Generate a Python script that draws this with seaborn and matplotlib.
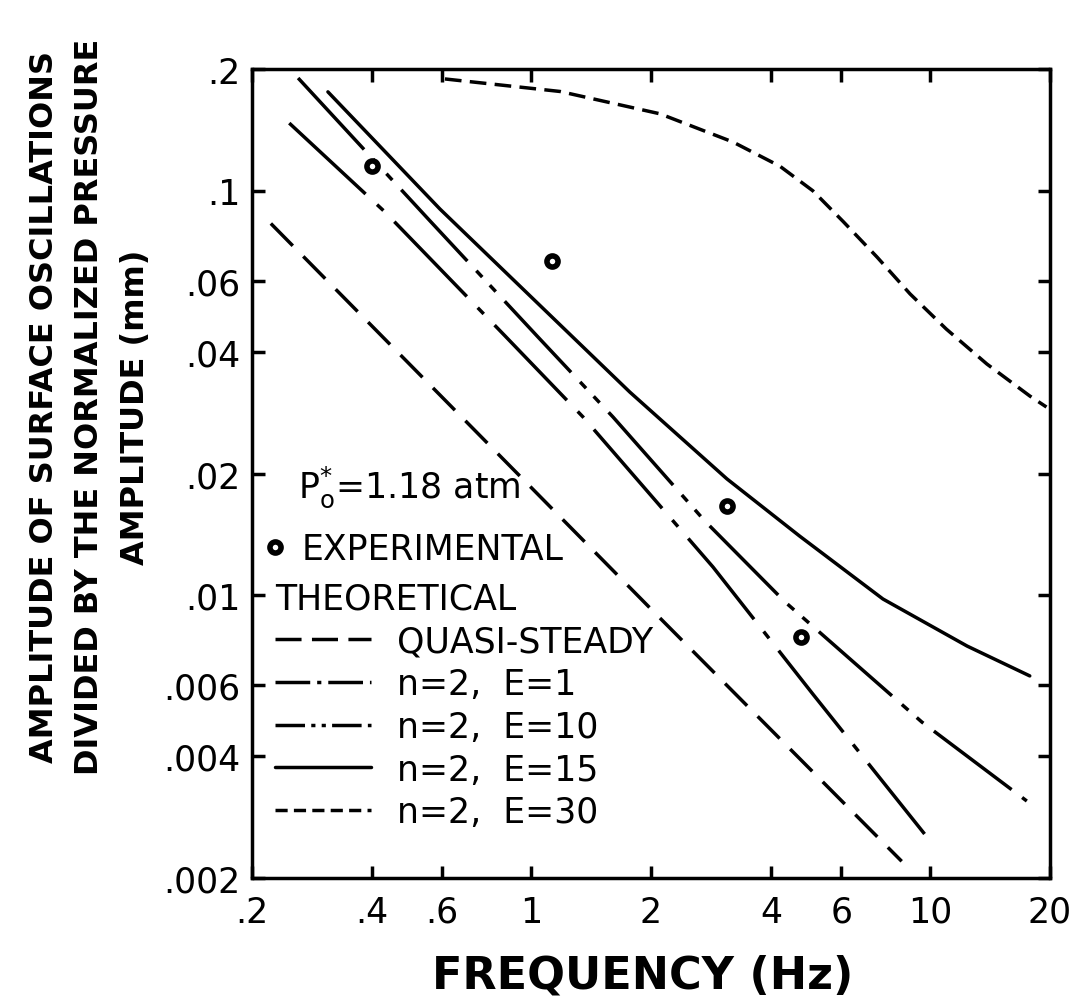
import pandas as pd
import matplotlib.pyplot as plt
from matplotlib.lines import Line2D
from matplotlib.ticker import NullLocator
import seaborn as sns

# experimental points
exp_freq = [0.40, 1.13, 3.10, 4.75]
exp_amp = [0.115, 0.067, 0.0166, 0.0079]

# theoretical curves
qs_freq = [0.223, 2.0, 8.5]
qs_amp = [0.083, 0.00925, 0.0022]

e1_freq = [0.248, 0.431, 0.861, 1.351, 2.86, 5.09, 9.7]
e1_amp = [0.147, 0.0886, 0.0438, 0.0276, 0.01175, 0.0057, 0.00257]

e10_freq = [0.261, 0.559, 1.042, 1.606, 2.73, 4.34, 9.55, 17.5]
e10_amp = [0.190, 0.0842, 0.0435, 0.0276, 0.01526, 0.00962, 0.00486, 0.0031]

e15_freq = [0.31, 0.592, 1.77, 3.10, 4.72, 7.63, 12.4, 17.8]
e15_amp = [0.1756, 0.0901, 0.0318, 0.0194, 0.0140, 0.00979, 0.00749, 0.00632]

e30_freq = [0.609, 1.183, 2.106, 3.21, 4.21, 5.09, 6.06, 7.37, 8.92, 11.0, 13.9, 17.8, 19.6]
e30_amp = [0.189, 0.176, 0.155, 0.132, 0.115, 0.100, 0.084, 0.0686, 0.0556, 0.0455, 0.0373, 0.0311, 0.0292]

curve_names = ['QUASI-STEADY', 'n=2,  E=1', 'n=2,  E=10', 'n=2,  E=15', 'n=2,  E=30']

x_ticks = [0.2, 0.4, 0.6, 1, 2, 4, 6, 10, 20]
x_labels = ['.2', '.4', '.6', '1', '2', '4', '6', '10', '20']
y_ticks = [0.002, 0.004, 0.006, 0.01, 0.02, 0.04, 0.06, 0.1, 0.2]
y_labels = ['.002', '.004', '.006', '.01', '.02', '.04', '.06', '.1', '.2']

# long form table for seaborn
parts = []
for name, f, a in zip(curve_names,
                      [qs_freq, e1_freq, e10_freq, e15_freq, e30_freq],
                      [qs_amp, e1_amp, e10_amp, e15_amp, e30_amp]):
    parts.append(pd.DataFrame({'freq': f, 'amp': a, 'curve': name}))
df = pd.concat(parts, ignore_index=True)

# dash patterns (in linewidth units) for the plotted curves
dash_map = {
    'QUASI-STEADY': (9, 4.3),
    'n=2,  E=1': (30, 4.5, 2.5, 4.5),
    'n=2,  E=10': (28, 3.8, 2.5, 3.2, 2.5, 3.8),
    'n=2,  E=15': '',
    'n=2,  E=30': (4.8, 2.4),
}
# shorter patterns for the legend samples
legend_dash = {
    'QUASI-STEADY': (7.5, 3),
    'n=2,  E=1': (10, 2, 1.2, 2),
    'n=2,  E=10': (8.5, 1.8, 1.2, 1.8, 1.2, 1.8),
    'n=2,  E=15': None,
    'n=2,  E=30': (3.5, 1.8),
}

sns.set_style("ticks")
plt.rcParams['font.family'] = ['DejaVu Sans']
plt.rcParams['mathtext.default'] = 'regular'
plt.rcParams['text.color'] = 'black'
plt.rcParams['axes.labelcolor'] = 'black'

fig = plt.figure(figsize=(10.75, 10.03), dpi=100)
ax = fig.add_axes([0.2344, 0.1236, 0.7423, 0.8066])
ax.set_xscale('log')
ax.set_yscale('log')

sns.lineplot(data=df, x='freq', y='amp', style='curve', style_order=curve_names,
             dashes=dash_map, color='black', linewidth=2.5, estimator=None,
             sort=False, legend=False, ax=ax)
sns.scatterplot(x=exp_freq, y=exp_amp, marker='o', s=64, color='white',
                edgecolor='black', linewidth=4, zorder=5, ax=ax)

ax.set_xlim(0.2, 20)
ax.set_ylim(0.002, 0.2)
ax.set_xticks(x_ticks, labels=x_labels)
ax.set_yticks(y_ticks, labels=y_labels)
ax.xaxis.set_minor_locator(NullLocator())
ax.yaxis.set_minor_locator(NullLocator())
ax.tick_params(which='major', direction='in', length=9, width=2.5,
               top=True, right=True, labelsize=25, colors='black')
ax.tick_params(axis='x', pad=12)
ax.tick_params(axis='y', pad=8)
for sp in ax.spines.values():
    sp.set_linewidth(2.5)
    sp.set_color('black')

ax.set_ylabel("AMPLITUDE OF SURFACE OSCILLATIONS\nDIVIDED BY THE NORMALIZED PRESSURE\nAMPLITUDE (mm)",
              fontsize=23, fontweight='bold', linespacing=1.6, color='black')
ax.yaxis.set_label_coords(-0.127, 0.583)
ax.set_xlabel('FREQUENCY (Hz)', fontsize=32, fontweight='bold', color='black')
ax.xaxis.set_label_coords(0.49, -0.093)

ax.text(0.0576, 0.4846, r'P$_o^{*}$=1.18 atm', transform=ax.transAxes,
        fontsize=25, va='center', ha='left', color='black')

# legend: experimental
exp_handle = Line2D([], [], ls='none', marker='o', markersize=8, markerfacecolor='white',
                    markeredgecolor='black', markeredgewidth=4)
leg1 = ax.legend([exp_handle], ['EXPERIMENTAL'], loc='center left',
                 bbox_to_anchor=(0.0163, 0.4067), frameon=False, fontsize=25,
                 handlelength=0.6, handletextpad=0.45, borderpad=0, borderaxespad=0,
                 labelcolor='black')
ax.add_artist(leg1)

# legend: theoretical
th_handles = []
for name in curve_names:
    if legend_dash[name] is None:
        th_handles.append(Line2D([], [], color='black', lw=2.5))
    else:
        th_handles.append(Line2D([], [], color='black', lw=2.5, dashes=legend_dash[name]))
leg2 = ax.legend(th_handles, curve_names, title='THEORETICAL', loc='upper left',
                 bbox_to_anchor=(0.029, 0.366), frameon=False, fontsize=25,
                 title_fontsize=25, alignment='left', handlelength=2.75,
                 handletextpad=0.75, labelspacing=0.25, borderpad=0, borderaxespad=0,
                 labelcolor='black')
leg2.get_title().set_color('black')

fig.savefig('out.png', dpi=100)
